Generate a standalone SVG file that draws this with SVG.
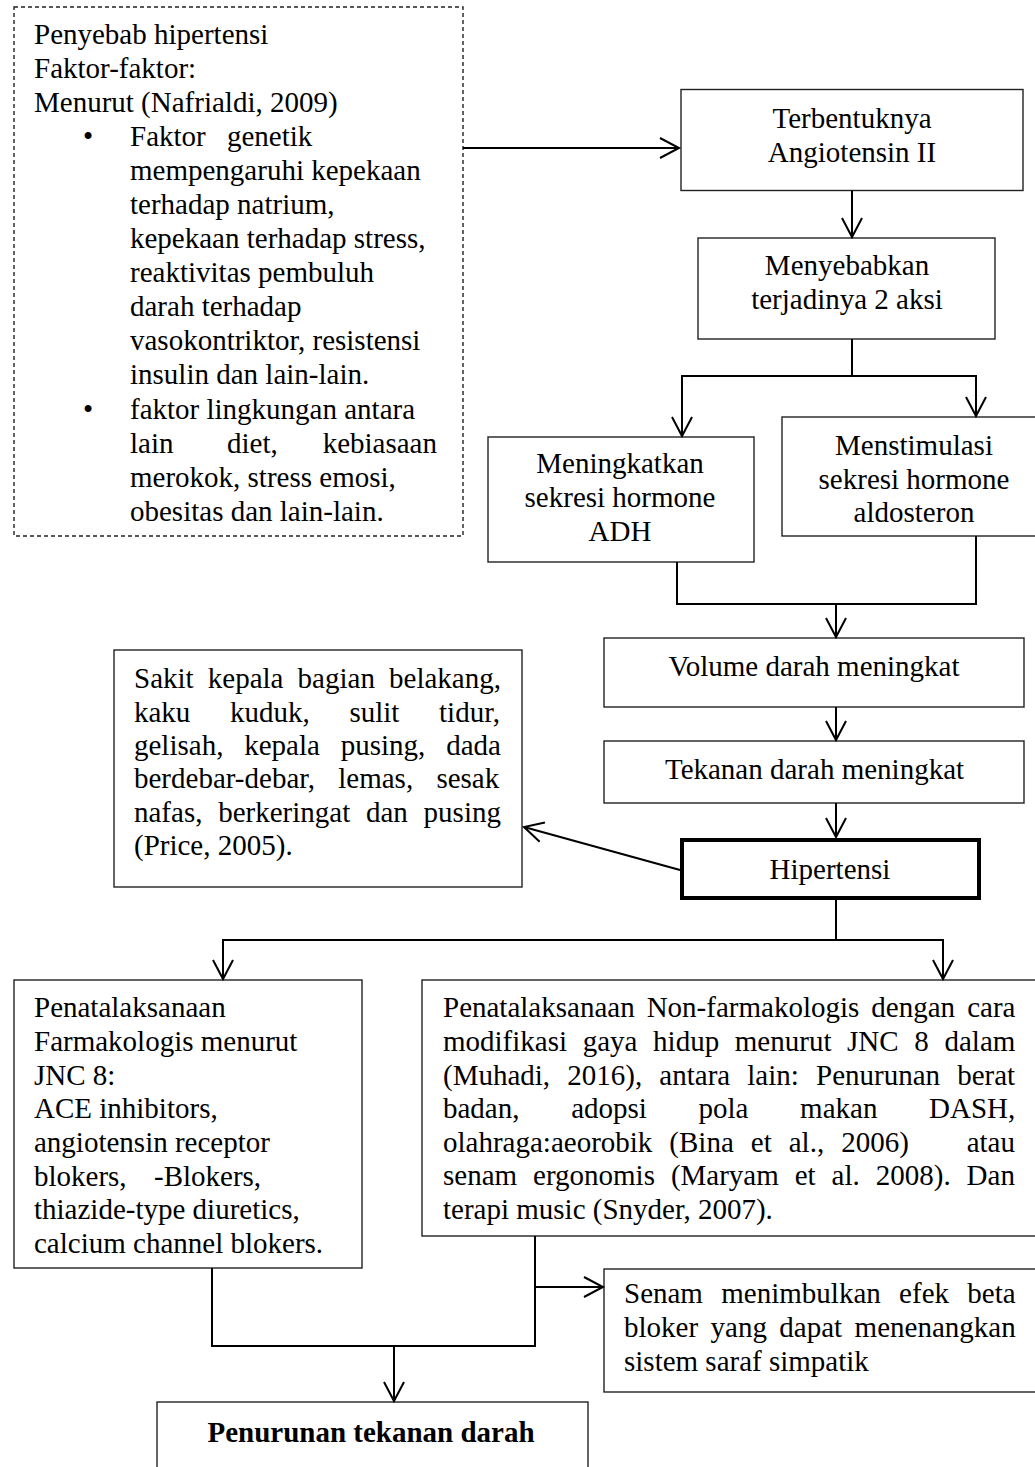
<svg xmlns="http://www.w3.org/2000/svg" width="1035" height="1467" viewBox="0 0 1035 1467">
<style>
  .bg{fill:#fff}
  .box{fill:#fff;stroke:#222;stroke-width:1.4}
  .dash{fill:#fff;stroke:#222;stroke-width:1.4;stroke-dasharray:4 3}
  .thick{fill:#fff;stroke:#000;stroke-width:4}
  .t{font-family:"Liberation Serif","Times New Roman",serif;font-size:29px;fill:#000}
  .c{text-anchor:middle}
  .e{text-anchor:end}
  .b{font-weight:bold}
  .con{fill:none;stroke:#000;stroke-width:2}
</style>
<defs>
  <marker id="ah" viewBox="-21 -12 24 24" refX="0" refY="0" markerWidth="24" markerHeight="24" markerUnits="userSpaceOnUse" orient="auto">
    <path d="M-19,-10 L0,0 L-19,10" fill="none" stroke="#000" stroke-width="2"/>
  </marker>
</defs>
<rect class="bg" x="0" y="0" width="1035" height="1467"/>

<g id="penyebab">
  <rect class="dash" x="14" y="7" width="449" height="529"/>
  <text class="t" x="34" y="44">Penyebab hipertensi</text>
  <text class="t" x="34" y="78">Faktor-faktor:</text>
  <text class="t" x="34" y="112">Menurut (Nafrialdi, 2009)</text>
  <text class="t" x="83" y="146">•</text>
  <text class="t" y="146"><tspan x="130">Faktor</tspan><tspan x="227">genetik</tspan></text>
  <text class="t" x="130" y="180">mempengaruhi kepekaan</text>
  <text class="t" x="130" y="214">terhadap natrium,</text>
  <text class="t" x="130" y="248">kepekaan terhadap stress,</text>
  <text class="t" x="130" y="282">reaktivitas pembuluh</text>
  <text class="t" x="130" y="316">darah terhadap</text>
  <text class="t" x="130" y="350">vasokontriktor, resistensi</text>
  <text class="t" x="130" y="384">insulin dan lain-lain.</text>
  <text class="t" x="83" y="419">•</text>
  <text class="t" x="130" y="419">faktor lingkungan antara</text>
  <text class="t" y="453"><tspan x="130">lain</tspan><tspan x="227">diet,</tspan><tspan x="437" text-anchor="end">kebiasaan</tspan></text>
  <text class="t" x="130" y="487">merokok, stress emosi,</text>
  <text class="t" x="130" y="521">obesitas dan lain-lain.</text>
</g>

<g id="terbentuk">
  <rect class="box" x="681" y="89.5" width="342" height="101"/>
  <text class="t c" x="852" y="128">Terbentuknya</text>
  <text class="t c" x="852" y="162">Angiotensin II</text>
</g>

<g id="menyebabkan">
  <rect class="box" x="698" y="238" width="297" height="101"/>
  <text class="t c" x="847" y="275">Menyebabkan</text>
  <text class="t c" x="847" y="308.5">terjadinya 2 aksi</text>
</g>

<g id="meningkatkan">
  <rect class="box" x="488" y="437" width="266" height="125"/>
  <text class="t c" x="620" y="473">Meningkatkan</text>
  <text class="t c" x="620" y="507">sekresi hormone</text>
  <text class="t c" x="620" y="541">ADH</text>
</g>

<g id="menstimulasi">
  <rect class="box" x="782" y="417" width="264" height="119"/>
  <text class="t c" x="914" y="455">Menstimulasi</text>
  <text class="t c" x="914" y="489">sekresi hormone</text>
  <text class="t c" x="914" y="522">aldosteron</text>
</g>

<g id="volume">
  <rect class="box" x="604" y="638" width="420" height="69"/>
  <text class="t c" x="814" y="676">Volume darah meningkat</text>
</g>

<g id="tekanan">
  <rect class="box" x="604" y="741" width="420" height="62"/>
  <text class="t c" x="814.5" y="778.5">Tekanan darah meningkat</text>
</g>

<g id="hipertensi">
  <rect class="thick" x="682" y="840" width="297" height="58"/>
  <text class="t c" x="830" y="879">Hipertensi</text>
</g>

<g id="gejala">
  <rect class="box" x="114" y="650" width="408" height="237"/>
  <text class="t" x="134" y="688" style="word-spacing:6.9px">Sakit kepala bagian belakang,</text>
  <text class="t" x="134" y="721.5" style="word-spacing:32.4px">kaku kuduk, sulit tidur,</text>
  <text class="t" x="134" y="755" style="word-spacing:13.6px">gelisah, kepala pusing, dada</text>
  <text class="t" x="134" y="788" style="word-spacing:16px">berdebar-debar, lemas, sesak</text>
  <text class="t" x="134" y="821.5" style="word-spacing:8.5px">nafas, berkeringat dan pusing</text>
  <text class="t" x="134" y="854.5">(Price, 2005).</text>
</g>

<g id="farmakologis">
  <rect class="box" x="14" y="980" width="348" height="288"/>
  <text class="t" x="34" y="1017">Penatalaksanaan</text>
  <text class="t" x="34" y="1050.7">Farmakologis menurut</text>
  <text class="t" x="34" y="1084.5">JNC 8:</text>
  <text class="t" x="34" y="1118">ACE inhibitors,</text>
  <text class="t" x="34" y="1152">angiotensin receptor</text>
  <text class="t" y="1185.5"><tspan x="34">blokers,</tspan><tspan x="154">-Blokers,</tspan></text>
  <text class="t" x="34" y="1219">thiazide-type diuretics,</text>
  <text class="t" x="34" y="1253">calcium channel blokers.</text>
</g>

<g id="nonfarmakologis">
  <rect class="box" x="422" y="980" width="624" height="256"/>
  <text class="t" x="443" y="1017" style="word-spacing:4.8px">Penatalaksanaan Non-farmakologis dengan cara</text>
  <text class="t" x="443" y="1050.7" style="word-spacing:8.4px">modifikasi gaya hidup menurut JNC 8 dalam</text>
  <text class="t" x="443" y="1084.5" style="word-spacing:9.9px">(Muhadi, 2016), antara lain: Penurunan berat</text>
  <text class="t" x="443" y="1118" style="word-spacing:44.4px">badan, adopsi pola makan DASH,</text>
  <text class="t" y="1151.5"><tspan x="443" style="word-spacing:9.75px">olahraga:aeorobik (Bina et al., 2006)</tspan><tspan x="1015" text-anchor="end">atau</tspan></text>
  <text class="t" x="443" y="1185" style="word-spacing:8.7px">senam ergonomis (Maryam et al. 2008). Dan</text>
  <text class="t" x="443" y="1219">terapi music (Snyder, 2007).</text>
</g>

<g id="senam">
  <rect class="box" x="604" y="1269" width="442" height="123"/>
  <text class="t" x="624" y="1303" style="word-spacing:11.1px">Senam menimbulkan efek beta</text>
  <text class="t" x="624" y="1337" style="word-spacing:5.2px">bloker yang dapat menenangkan</text>
  <text class="t" x="624" y="1371">sistem saraf simpatik</text>
</g>

<g id="penurunan">
  <rect class="box" x="157" y="1402" width="431" height="90"/>
  <text class="t c b" x="371" y="1441.5">Penurunan tekanan darah</text>
</g>

<g id="connectors">
  <path class="con" d="M463,148 H679" marker-end="url(#ah)"/>
  <path class="con" d="M852,190.5 V237" marker-end="url(#ah)"/>
  <path class="con" d="M852,339 V376 H682 V436" marker-end="url(#ah)"/>
  <path class="con" d="M852,376 H976 V416" marker-end="url(#ah)"/>
  <path class="con" d="M677,562 V604 H976 V536"/>
  <path class="con" d="M836,604 V637" marker-end="url(#ah)"/>
  <path class="con" d="M836,707 V740" marker-end="url(#ah)"/>
  <path class="con" d="M836,803 V837" marker-end="url(#ah)"/>
  <path class="con" d="M680,870 L524,827" marker-end="url(#ah)"/>
  <path class="con" d="M836,900 V940 H223 V979" marker-end="url(#ah)"/>
  <path class="con" d="M836,940 H943 V979" marker-end="url(#ah)"/>
  <path class="con" d="M212,1268 V1346 H535 V1236"/>
  <path class="con" d="M535,1287 H603" marker-end="url(#ah)"/>
  <path class="con" d="M394,1346 V1401" marker-end="url(#ah)"/>
</g>
</svg>
